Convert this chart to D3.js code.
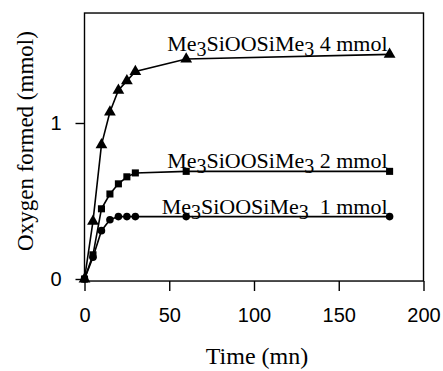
<!DOCTYPE html>
<html>
<head>
<meta charset="utf-8">
<script src="https://cdn.jsdelivr.net/npm/d3@7"></script>
<style>
  body { margin: 0; background: #fff; }
  svg { display: block; }
</style>
</head>
<body>
<script>
// data
const times = [0, 5, 10, 15, 20, 25, 30, 60, 180]
const o2_4mmol = [0, 0.37, 0.86, 1.07, 1.21, 1.27, 1.33, 1.41, 1.44]
const o2_2mmol = [0, 0.155, 0.45, 0.545, 0.61, 0.655, 0.68, 0.69, 0.69]
const o2_1mmol = [0, 0.14, 0.31, 0.38, 0.40, 0.40, 0.40, 0.40, 0.40]
const seriesNames = ['4 mmol', '2 mmol', '\u00a01 mmol']
const xTicks = [0, 50, 100, 150, 200]
const yTicks = [0, 1]

const width = 443, height = 371
const serif = "'Liberation Serif', 'Times New Roman', serif"
const sans = "'Liberation Sans', Arial, sans-serif"

const svg = d3.select('body').append('svg')
    .attr('width', width)
    .attr('height', height)

const x = d3.scaleLinear().domain([0, 200]).range([84.5, 423.5])
const y = d3.scaleLinear().domain([0, 1]).range([279, 123])
const yTop = 1.705, yBottom = -0.013

// frame
svg.append('rect')
    .attr('x', x(0))
    .attr('y', y(yTop))
    .attr('width', x(200) - x(0))
    .attr('height', y(yBottom) - y(yTop))
    .attr('fill', 'none')
    .attr('stroke', '#000')
    .attr('stroke-width', 1.4)

const xAxis = svg.append('g')
    .attr('transform', `translate(0,${y(yBottom)})`)
    .call(d3.axisBottom(x).tickValues(xTicks).tickSize(10).tickPadding(17).tickFormat(d3.format('d')))
const yAxis = svg.append('g')
    .attr('transform', `translate(${x(0)},0)`)
    .call(d3.axisLeft(y).tickValues(yTicks).tickSize(9).tickPadding(14).tickFormat(d3.format('d')))

;[xAxis, yAxis].forEach(ax => {
    ax.select('.domain').remove()
    ax.selectAll('line').attr('stroke', '#000').attr('stroke-width', 1.4)
    ax.selectAll('text')
        .attr('fill', '#000')
        .style('font-family', sans)
        .style('font-size', '20px')
})

svg.append('text')
    .attr('x', (x(0) + x(200)) / 2 + 3)
    .attr('y', 364)
    .attr('text-anchor', 'middle')
    .style('font-family', serif)
    .style('font-size', '24px')
    .text('Time (mn)')

svg.append('text')
    .attr('transform', `translate(33,${(y(yTop) + y(yBottom)) / 2 - 6}) rotate(-90)`)
    .attr('text-anchor', 'middle')
    .style('font-family', serif)
    .style('font-size', '23px')
    .text('Oxygen formed (mmol)')

const series = [
    {values: o2_4mmol, symbol: d3.symbolTriangle, size: 60},
    {values: o2_2mmol, symbol: d3.symbolSquare, size: 50},
    {values: o2_1mmol, symbol: d3.symbolCircle, size: 45}
]

const line = d3.line()
    .x(d => x(d[0]))
    .y(d => y(d[1]))

series.forEach((s, i) => {
    const pts = times.map((t, j) => [t, s.values[j]])
    svg.append('path')
        .datum(pts)
        .attr('d', line)
        .attr('fill', 'none')
        .attr('stroke', '#000')
        .attr('stroke-width', 1.6)

    svg.selectAll(null)
        .data(pts)
        .enter()
        .append('path')
        .attr('transform', d => `translate(${x(d[0])},${y(d[1])})`)
        .attr('d', d3.symbol().type(s.symbol).size(s.size))
        .attr('fill', '#000')

    const last = pts[pts.length - 1]
    const label = svg.append('text')
        .attr('x', x(last[0]) - 2)
        .attr('y', y(last[1]) - 3)
        .attr('text-anchor', 'end')
        .style('font-family', serif)
        .style('font-size', '22px')
    label.append('tspan').text('Me')
    label.append('tspan').attr('dy', 5).style('font-size', '20px').text('3')
    label.append('tspan').attr('dy', -5).text('SiOOSiMe')
    label.append('tspan').attr('dy', 5).style('font-size', '20px').text('3')
    label.append('tspan').attr('dy', -5).text(' ' + seriesNames[i])
})
</script>
</body>
</html>
